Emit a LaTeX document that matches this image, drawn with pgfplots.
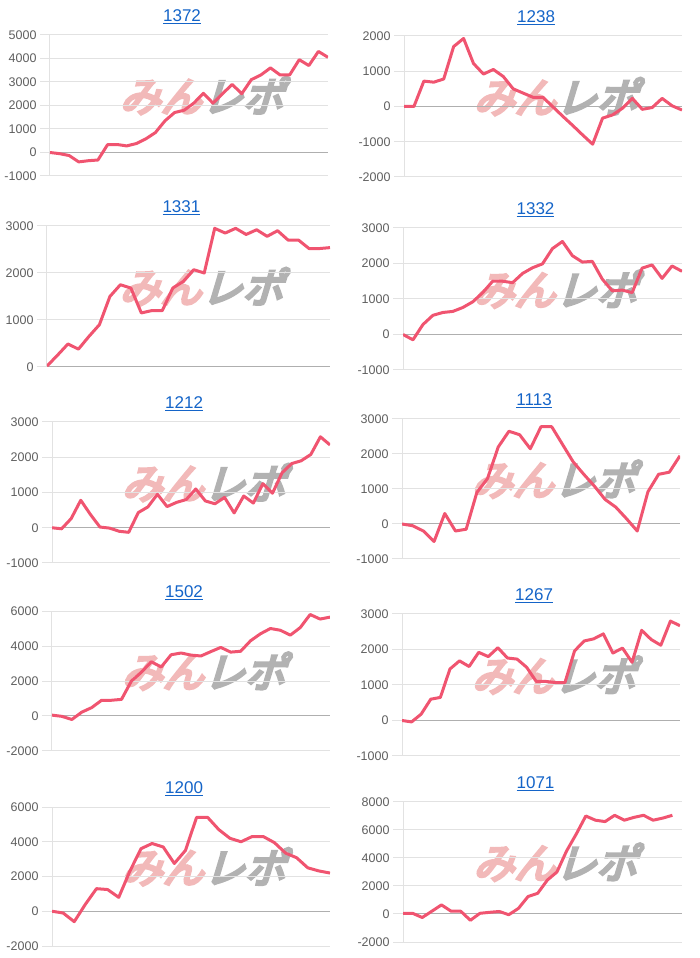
\documentclass[border=0pt]{standalone}
\usepackage{fontspec}
\setmainfont{Liberation Sans}
\newfontfamily\wmfont[FakeSlant=0.3,FakeBold=7]{Noto Sans CJK JP}
\usepackage{pgfplots}
\pgfplotsset{compat=1.18}

\definecolor{linec}{RGB}{240,84,112}
\definecolor{gridc}{RGB}{226,226,226}
\definecolor{zeroc}{RGB}{175,175,175}
\definecolor{labc}{RGB}{95,95,95}
\definecolor{titlec}{RGB}{20,100,200}
\definecolor{wmpink}{RGB}{242,185,185}
\definecolor{wmgray}{RGB}{178,178,178}

% watermark, drawn behind each panel
\newcommand{\wm}[2]{\node[inner sep=0pt] at (#1pt,#2pt)
  {\wmfont\fontsize{41}{41}\selectfont\textcolor{wmpink}{みん}\textcolor{wmgray}{レポ}};}

\pgfplotsset{
  panel/.style={
    scale only axis, width=278pt, height=141pt,
    anchor=south west,
    xmin=0, xtick=\empty,
    axis lines*=left,
    axis line style={draw=gridc, line width=1pt},
    ymajorgrids, major grid style={draw=gridc, line width=1pt},
    major tick length=10pt, tick align=outside,
    ytick style={draw=gridc, line width=1pt},
    extra y ticks={0}, extra y tick labels={},
    extra y tick style={major grid style={draw=zeroc, line width=1pt}},
    yticklabel style={font=\fontsize{12.5}{14}\selectfont, text=labc,
      /pgf/number format/assume math mode=true,
      /pgf/number format/1000 sep={}},
    title style={font=\fontsize{17}{17}\selectfont, text=titlec,
      at={(0.475,1)}, anchor=south, yshift=2pt},
  },
  dline/.style={linec, line width=3pt, line join=round, no marks},
}

\begin{document}
\begin{tikzpicture}
\useasboundingbox (0,0) rectangle (700pt,958pt);

\wm{201.5}{862.4}
\wm{555.5}{861.4}
\wm{201.2}{671.4}
\wm{555.1}{668.9}
\wm{203.5}{475.4}
\wm{553.5}{478.8}
\wm{203.5}{286.8}
\wm{553.5}{282.9}
\wm{203.5}{91.2}
\wm{555.1}{95.8}

% row 1
\begin{axis}[panel, at={(50pt,782pt)}, xmax=29, ymin=-1000, ymax=5000,
  ytick={-1000,0,...,5000}, title={\underline{1372}}]
\addplot[dline] coordinates {(0,0) (1,-50) (2,-130) (3,-400) (4,-350) (5,-320)
 (6,330) (7,340) (8,280) (9,380) (10,580) (11,850) (12,1350) (13,1700) (14,1800)
 (15,2100) (16,2520) (17,2100) (18,2500) (19,2900) (20,2500) (21,3100) (22,3300)
 (23,3600) (24,3300) (25,3300) (26,3950) (27,3700) (28,4300) (29,4050)};
\end{axis}

\begin{axis}[panel, at={(404pt,781pt)}, xmax=28, ymin=-2000, ymax=2000,
  ytick={-2000,-1000,...,2000}, title={\underline{1238}}]
\addplot[dline] coordinates {(0,0) (1,0) (2,720) (3,690) (4,780) (5,1700) (6,1930)
 (7,1220) (8,920) (9,1050) (10,850) (11,500) (12,380) (13,260) (14,260) (15,-10)
 (16,-280) (17,-540) (18,-810) (19,-1070) (20,-330) (21,-240) (22,-50) (23,230)
 (24,-80) (25,-30) (26,230) (27,20) (28,-100)};
\end{axis}

% row 2
\begin{axis}[panel, at={(47pt,591pt)}, width=283pt, xmax=27, ymin=0, ymax=3000,
  ytick={0,1000,...,3000}, title={\underline{1331}}]
\addplot[dline] coordinates {(0,20) (1,250) (2,490) (3,380) (4,650) (5,900) (6,1500)
 (7,1750) (8,1680) (9,1150) (10,1200) (11,1200) (12,1680) (13,1820) (14,2070)
 (15,2000) (16,2950) (17,2850) (18,2950) (19,2820) (20,2920) (21,2780) (22,2900)
 (23,2700) (24,2700) (25,2520) (26,2520) (27,2540)};
\end{axis}

\begin{axis}[panel, at={(403pt,588pt)}, width=279pt, height=142pt, xmax=28,
  ymin=-1000, ymax=3000, ytick={-1000,0,...,3000}, title={\underline{1332}}]
\addplot[dline] coordinates {(0,0) (1,-150) (2,280) (3,540) (4,620) (5,650) (6,760)
 (7,920) (8,1180) (9,1500) (10,1500) (11,1460) (12,1720) (13,1880) (14,1990)
 (15,2420) (16,2620) (17,2220) (18,2040) (19,2060) (20,1560) (21,1230) (22,1250)
 (23,1180) (24,1870) (25,1960) (26,1580) (27,1930) (28,1780)};
\end{axis}

% row 3
\begin{axis}[panel, at={(52pt,395pt)}, xmax=29, ymin=-1000, ymax=3000,
  ytick={-1000,0,...,3000}, title={\underline{1212}}]
\addplot[dline] coordinates {(0,0) (1,-30) (2,260) (3,780) (4,380) (5,20) (6,-10)
 (7,-100) (8,-130) (9,430) (10,590) (11,950) (12,600) (13,720) (14,800) (15,1100)
 (16,760) (17,680) (18,860) (19,420) (20,900) (21,700) (22,1250) (23,980) (24,1560)
 (25,1820) (26,1900) (27,2080) (28,2580) (29,2350)};
\end{axis}

\begin{axis}[panel, at={(402pt,399pt)}, height=140pt, xmax=26, ymin=-1000, ymax=3000,
  ytick={-1000,0,...,3000}, title={\underline{1113}}]
\addplot[dline] coordinates {(0,0) (1,-50) (2,-200) (3,-500) (4,300) (5,-200)
 (6,-150) (7,900) (8,1300) (9,2200) (10,2650) (11,2550) (12,2150) (13,2780)
 (14,2780) (15,2280) (16,1780) (17,1420) (18,1080) (19,700) (20,480) (21,150)
 (22,-200) (23,920) (24,1420) (25,1480) (26,1950)};
\end{axis}

% row 4
\begin{axis}[panel, at={(52pt,207pt)}, height=140pt, xmax=28, ymin=-2000, ymax=6000,
  ytick={-2000,0,...,6000}, title={\underline{1502}}]
\addplot[dline] coordinates {(0,50) (1,-20) (2,-200) (3,220) (4,480) (5,900) (6,900)
 (7,950) (8,2000) (9,2500) (10,3100) (11,2800) (12,3500) (13,3600) (14,3480)
 (15,3430) (16,3680) (17,3920) (18,3650) (19,3700) (20,4300) (21,4700) (22,5000)
 (23,4900) (24,4620) (25,5050) (26,5800) (27,5540) (28,5650)};
\end{axis}

\begin{axis}[panel, at={(402pt,202pt)}, height=142pt, xmax=29, ymin=-1000, ymax=3000,
  ytick={-1000,0,...,3000}, title={\underline{1267}}]
\addplot[dline] coordinates {(0,0) (1,-40) (2,180) (3,600) (4,650) (5,1450) (6,1680)
 (7,1520) (8,1920) (9,1800) (10,2050) (11,1760) (12,1730) (13,1500) (14,1100)
 (15,1100) (16,1070) (17,1070) (18,1960) (19,2240) (20,2300) (21,2440) (22,1900)
 (23,2040) (24,1640) (25,2540) (26,2280) (27,2120) (28,2800) (29,2670)};
\end{axis}

% row 5
\begin{axis}[panel, at={(52pt,12pt)}, height=139pt, xmax=25, ymin=-2000, ymax=6000,
  ytick={-2000,0,...,6000}, title={\underline{1200}}]
\addplot[dline] coordinates {(0,0) (1,-100) (2,-600) (3,400) (4,1300) (5,1250)
 (6,800) (7,2300) (8,3600) (9,3900) (10,3700) (11,2750) (12,3500) (13,5400)
 (14,5400) (15,4700) (16,4200) (17,4000) (18,4300) (19,4300) (20,3950) (21,3350)
 (22,3080) (23,2500) (24,2320) (25,2200)};
\end{axis}

\begin{axis}[panel, at={(403pt,16pt)}, width=279pt, height=140pt, xmax=29,
  ymin=-2000, ymax=8000, ytick={-2000,0,...,8000}, title={\underline{1071}}]
\addplot[dline] coordinates {(0,50) (1,50) (2,-250) (3,200) (4,650) (5,200) (6,200)
 (7,-450) (8,50) (9,120) (10,180) (11,-50) (12,400) (13,1250) (14,1480) (15,2420)
 (16,3000) (17,4500) (18,5700) (19,7000) (20,6700) (21,6600) (22,7050) (23,6700)
 (24,6900) (25,7050) (26,6700) (27,6850) (28,7050)};
\end{axis}
\end{tikzpicture}
\end{document}
